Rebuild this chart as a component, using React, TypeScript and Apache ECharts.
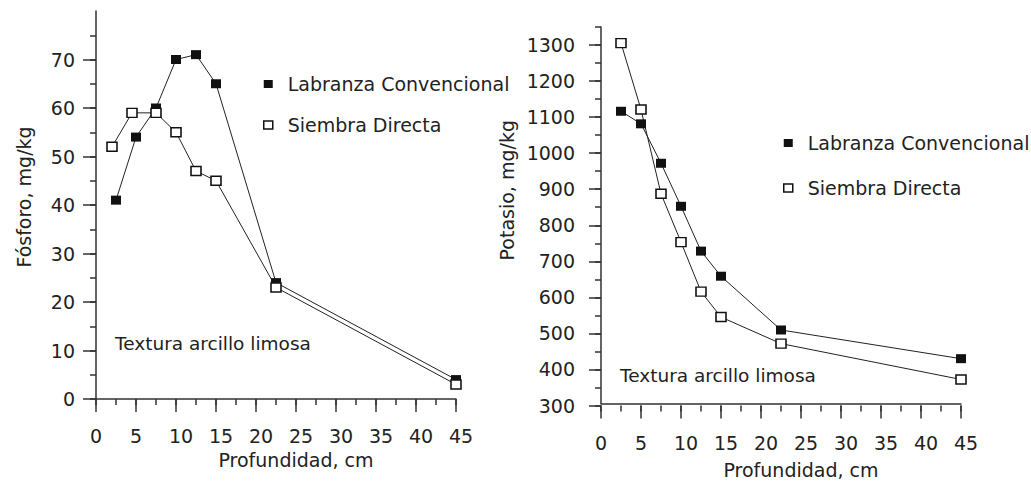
import React, { useEffect, useRef } from "react";
import * as echarts from "echarts";

// ---- Data ----
const depthPhosLC = [2.5, 5, 7.5, 10, 12.5, 15, 22.5, 45];
const phosLC = [41, 54, 60, 70, 71, 65, 24, 4];
const depthPhosSD = [2, 4.5, 7.5, 10, 12.5, 15, 22.5, 45];
const phosSD = [52, 59, 59, 55, 47, 45, 23, 3];

const depthPotLC = [2.5, 5, 7.5, 10, 12.5, 15, 22.5, 45];
const potLC = [1115, 1080, 970, 850, 725, 655, 505, 425];
const depthPotSD = [2.5, 5, 7.5, 10, 12.5, 15, 22.5, 45];
const potSD = [1305, 1120, 885, 750, 612, 541, 467, 367];

// axis extents / labelled tick ranges
const depthRange = [0, 45];
const phosRange = [0, 80];
const phosLabelRange = [0, 70];
const potRange = [300, 1350];
const potLabelRange = [300, 1300];

const seriesNames = ["Labranza Convencional", "Siembra Directa"];
const xTitle = "Profundidad, cm";
const phosTitle = "Fósforo, mg/kg";
const potTitle = "Potasio, mg/kg";
const note = "Textura arcillo limosa";

const zip = (xs: number[], ys: number[]) => xs.map((x, i) => [x, ys[i]]);

const FONT = "DejaVu Sans";
const TXT = "#222";
const AX = "#333";

const ls = () => ({ color: AX, width: 1.5 });
const lbl = () => ({ color: TXT, fontFamily: FONT, fontSize: 19 });

export default function App() {
  const ref = useRef<HTMLDivElement>(null);

  useEffect(() => {
    if (!ref.current) return;
    const chart = echarts.init(ref.current, undefined, { renderer: "svg" });

    // main x axes: line, labels, title
    const xAxisMain = (gridIndex: number, margin: number, nameGap: number) => ({
      type: "value",
      gridIndex,
      min: depthRange[0],
      max: depthRange[1],
      interval: 5,
      axisLine: { show: true, lineStyle: ls(), onZero: false },
      axisTick: { show: false },
      splitLine: { show: false },
      axisLabel: {
        ...lbl(),
        margin,
        formatter: (v: number) => (v >= 10 ? `{w|${v}}` : `{n|${v}}`),
        rich: {
          w: { ...lbl(), padding: [0, 0, 0, 10] },
          n: { ...lbl() },
        },
      },
      name: xTitle,
      nameLocation: "middle",
      nameGap,
      nameTextStyle: { ...lbl(), padding: [0, 0, 0, 40] },
    });

    // main y axes: line and title
    const yAxisMain = (gridIndex: number, range: number[], interval: number, name: string, nameGap: number, shift: number) => ({
      type: "value",
      gridIndex,
      min: range[0],
      max: range[1],
      interval,
      axisLine: { show: true, lineStyle: ls(), onZero: false },
      axisTick: { show: false },
      splitLine: { show: false },
      axisLabel: { show: false },
      name,
      nameLocation: "middle",
      nameGap,
      nameTextStyle: { ...lbl(), padding: [0, 0, 0, shift] },
    });

    const hiddenAxis = (gridIndex: number) => ({
      type: "value",
      gridIndex,
      show: false,
      min: 0,
      max: 1,
    });

    // tick strips: narrow grids whose split lines form the tick marks
    const xTickStrip = (gridIndex: number, interval: number) => ({
      type: "value",
      gridIndex,
      min: depthRange[0],
      max: depthRange[1],
      interval,
      axisLine: { show: false },
      axisTick: { show: false },
      axisLabel: { show: false },
      splitLine: { show: true, lineStyle: ls() },
    });
    const yTickStrip = (
      gridIndex: number,
      range: number[],
      interval: number,
      labelMargin: number | null,
      labelPadding: number[],
      showMax: boolean
    ) => ({
      type: "value",
      gridIndex,
      min: range[0],
      max: range[1],
      interval,
      axisLine: { show: false },
      axisTick: { show: false },
      axisLabel:
        labelMargin === null
          ? { show: false }
          : { ...lbl(), margin: labelMargin, padding: labelPadding, formatter: (v: number) => String(v) },
      splitLine: { show: true, showMaxLine: showMax, lineStyle: ls() },
    });

    const lcSeries = {
      type: "line",
      name: seriesNames[0],
      symbol: "rect",
      symbolSize: [10, 9],
      itemStyle: { color: "#111" },
      lineStyle: { color: TXT, width: 1 },
    };
    const sdSeries = {
      type: "line",
      name: seriesNames[1],
      symbol: "rect",
      symbolSize: [10, 9],
      itemStyle: { color: "#fff", borderColor: "#111", borderWidth: 1.5 },
      lineStyle: { color: TXT, width: 1 },
    };

    const legendBase = (left: number, top: number, itemGap: number) => ({
      left,
      top,
      orient: "vertical",
      padding: 0,
      itemWidth: 9,
      itemHeight: 8,
      itemGap,
      selectedMode: false,
      textStyle: { ...lbl(), lineHeight: 20, padding: [0, 0, 0, 10] },
      data: [
        { name: seriesNames[0], icon: "rect", itemStyle: { color: "#111", borderWidth: 0 } },
        {
          name: seriesNames[1],
          icon: "rect",
          itemStyle: { color: "#fff", borderColor: "#111", borderWidth: 1.5 },
        },
      ],
    });

    const option: any = {
      animation: false,
      grid: [
        { left: 96, top: 11, width: 360, height: 388 }, // 0 phosphorus plot (0-80)
        { left: 601, top: 27, width: 360, height: 378.5 }, // 1 potassium plot (300-1350)
        { left: 83, top: 59.5, width: 13, height: 339.5 }, // 2 phos major y ticks (0-70)
        { left: 589, top: 45, width: 12, height: 360.5 }, // 3 pot major y ticks (300-1300)
        { left: 90, top: 11, width: 6, height: 388 }, // 4 phos minor y ticks
        { left: 595, top: 27, width: 6, height: 378.5 }, // 5 pot minor y ticks
        { left: 96, top: 399, width: 360, height: 13 }, // 6 left major x ticks
        { left: 601, top: 405.5, width: 360, height: 13 }, // 7 right major x ticks
        { left: 96, top: 399, width: 360, height: 6 }, // 8 left minor x ticks
        { left: 601, top: 405.5, width: 360, height: 6 }, // 9 right minor x ticks
      ],
      legend: [legendBase(263, 74, 21), legendBase(783, 133, 25)],
      xAxis: [
        xAxisMain(0, 27, 51.5),
        xAxisMain(1, 29.5, 56.5),
        hiddenAxis(2),
        hiddenAxis(3),
        hiddenAxis(4),
        hiddenAxis(5),
        xTickStrip(6, 5),
        xTickStrip(7, 5),
        xTickStrip(8, 2.5),
        xTickStrip(9, 2.5),
      ],
      yAxis: [
        yAxisMain(0, phosRange, 10, phosTitle, 63, 16),
        yAxisMain(1, potRange, 50, potTitle, 85, 50),
        yTickStrip(2, phosLabelRange, 10, 8, [0, 0, 0, 0], true),
        yTickStrip(3, potLabelRange, 100, 14, [5, 0, 0, 0], true),
        yTickStrip(4, phosRange, 5, null, [0, 0, 0, 0], false),
        yTickStrip(5, potRange, 50, null, [0, 0, 0, 0], true),
        hiddenAxis(6),
        hiddenAxis(7),
        hiddenAxis(8),
        hiddenAxis(9),
      ],
      series: [
        { ...lcSeries, xAxisIndex: 0, yAxisIndex: 0, data: zip(depthPhosLC, phosLC) },
        { ...sdSeries, xAxisIndex: 0, yAxisIndex: 0, data: zip(depthPhosSD, phosSD) },
        { ...lcSeries, xAxisIndex: 1, yAxisIndex: 1, data: zip(depthPotLC, potLC) },
        { ...sdSeries, xAxisIndex: 1, yAxisIndex: 1, data: zip(depthPotSD, potSD) },
      ],
      graphic: [
        {
          type: "text",
          x: 115,
          y: 343.5,
          style: { text: note, fill: TXT, fontFamily: FONT, fontSize: 18.5, verticalAlign: "middle" },
        },
        {
          type: "text",
          x: 620,
          y: 375,
          style: { text: note, fill: TXT, fontFamily: FONT, fontSize: 18.5, verticalAlign: "middle" },
        },
      ],
    };

    chart.setOption(option);
    return () => chart.dispose();
  }, []);

  return (
    <div
      ref={ref}
      style={{ position: "fixed", left: 0, top: 0, width: 1031, height: 484, background: "#fff" }}
    />
  );
}
